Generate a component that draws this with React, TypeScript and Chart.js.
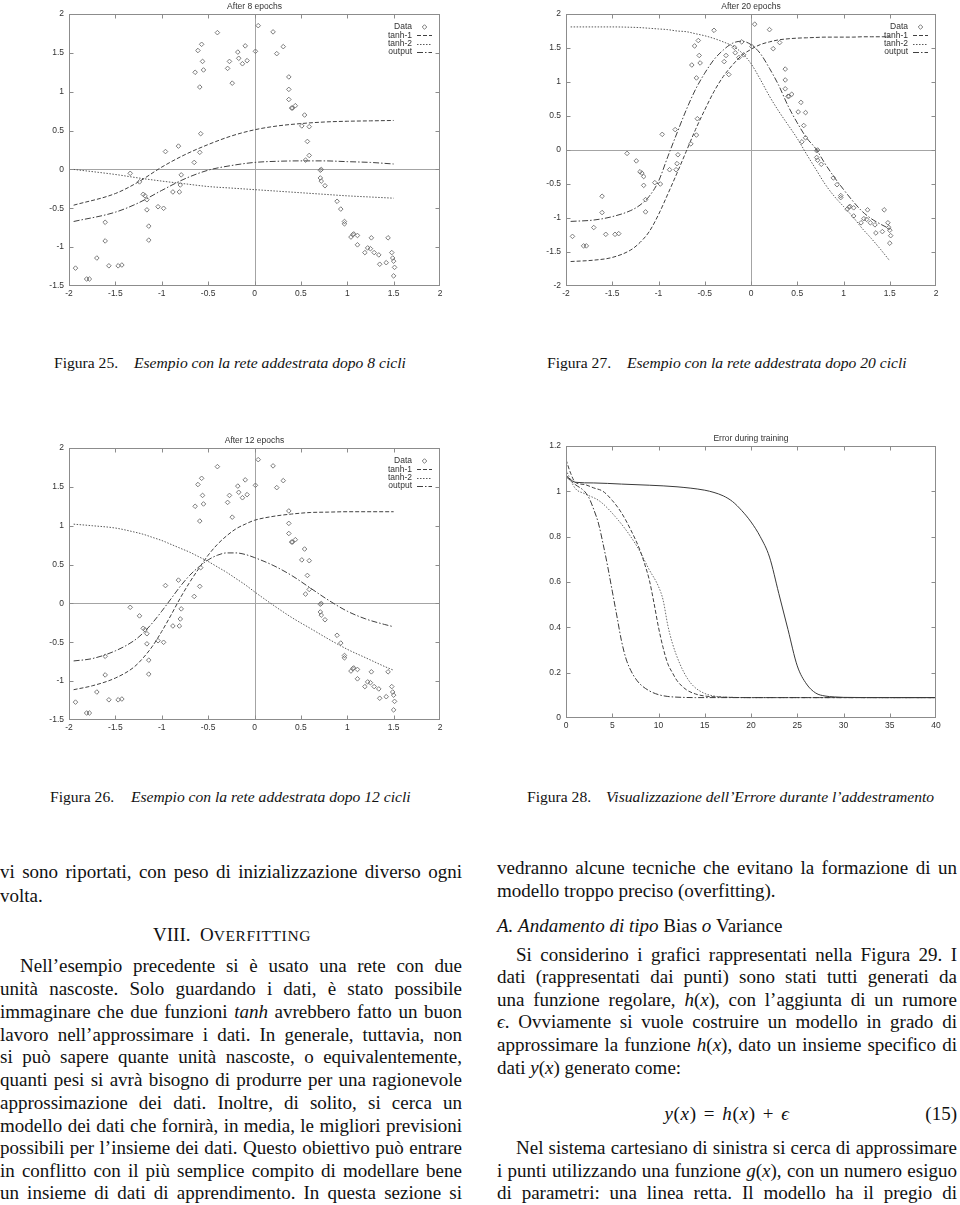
import React, { useEffect, useRef } from "react";
import { Chart, registerables } from "chart.js";
Chart.register(...registerables);

const SANS = '"Liberation Sans", Arial, sans-serif';
const SERIF = '"Liberation Serif", "DejaVu Serif", serif';

// ---------- training data (same in the three fit plots) ----------
const dataX = [-1.93,-1.81,-1.78,-1.70,-1.61,-1.61,-1.57,-1.47,-1.43,-1.34,-1.24,-1.20,-1.18,-1.16,-1.16,-1.14,-1.14,-1.04,-0.98,-0.96,-0.88,-0.82,-0.81,-0.80,-0.79,-0.65,-0.64,-0.61,-0.59,-0.59,-0.58,-0.57,-0.56,-0.55,-0.40,-0.29,-0.27,-0.24,-0.18,-0.17,-0.13,-0.10,-0.08,0.01,0.04,0.20,0.24,0.31,0.37,0.37,0.37,0.40,0.41,0.44,0.51,0.54,0.55,0.57,0.59,0.59,0.71,0.72,0.71,0.72,0.76,0.89,0.93,0.97,0.97,1.04,1.06,1.07,1.11,1.11,1.19,1.22,1.25,1.26,1.29,1.34,1.35,1.42,1.44,1.48,1.49,1.50,1.51,1.50];
const dataY = [-1.27,-1.41,-1.41,-1.14,-0.68,-0.92,-1.24,-1.24,-1.23,-0.05,-0.16,-0.32,-0.34,-0.39,-0.52,-0.73,-0.91,-0.48,-0.50,0.23,-0.29,0.30,-0.29,-0.20,-0.07,0.09,1.25,1.53,1.06,0.22,0.46,1.61,1.39,1.28,1.76,1.30,1.39,1.11,1.51,1.43,1.36,1.59,1.40,1.52,1.85,1.77,1.49,1.58,1.19,1.03,0.90,0.79,0.79,0.82,0.56,0.70,0.12,0.36,0.55,0.18,-0.01,0.00,-0.11,-0.15,-0.21,-0.41,-0.51,-0.67,-0.70,-0.87,-0.84,-0.83,-0.85,-0.97,-1.07,-1.01,-1.02,-0.88,-1.07,-1.10,-1.22,-1.20,-0.88,-1.07,-1.14,-1.18,-1.26,-1.37];

// ---------- After 8 epochs ----------
const e8X = [-1.95,-1.5,-1.25,-1.0,-0.75,-0.5,-0.25,0,0.25,0.5,0.75,1.0,1.25,1.5];
const e8Tanh1 = [-0.46,-0.31,-0.16,0.03,0.19,0.32,0.43,0.51,0.56,0.59,0.61,0.62,0.625,0.63];
const e8Tanh2 = [0.0,-0.065,-0.11,-0.15,-0.185,-0.22,-0.24,-0.26,-0.28,-0.30,-0.32,-0.34,-0.355,-0.37];
const e8Output = [-0.67,-0.55,-0.43,-0.27,-0.12,-0.01,0.05,0.09,0.105,0.11,0.11,0.10,0.09,0.07];

// ---------- After 20 epochs ----------
const e20X = [-1.95,-1.7,-1.5,-1.3,-1.2,-1.1,-1.0,-0.9,-0.8,-0.7,-0.6,-0.5,-0.4,-0.3,-0.2,-0.1,0,0.1,0.2,0.3,0.4,0.5,0.6,0.7,0.8,0.9,1.0,1.1,1.2,1.3,1.4,1.5];
const e20Tanh1 = [-1.64,-1.62,-1.58,-1.47,-1.36,-1.20,-0.95,-0.65,-0.34,-0.02,0.30,0.59,0.86,1.08,1.25,1.39,1.48,1.55,1.59,1.62,1.635,1.645,1.65,1.655,1.66,1.66,1.66,1.66,1.665,1.665,1.665,1.665];
const e20Tanh2 = [1.81,1.81,1.81,1.805,1.80,1.79,1.78,1.77,1.75,1.74,1.71,1.68,1.64,1.59,1.53,1.43,1.27,1.04,0.79,0.57,0.37,0.17,-0.06,-0.28,-0.50,-0.68,-0.83,-0.98,-1.15,-1.30,-1.46,-1.63];
const e20Output = [-1.05,-1.03,-0.98,-0.89,-0.81,-0.68,-0.46,-0.10,0.25,0.59,0.89,1.13,1.33,1.47,1.57,1.60,1.55,1.42,1.20,0.95,0.65,0.40,0.18,0.02,-0.20,-0.40,-0.58,-0.75,-0.90,-1.01,-1.09,-1.16];

// ---------- After 12 epochs ----------
const e12X = [-1.95,-1.75,-1.5,-1.3,-1.2,-1.1,-1.0,-0.9,-0.8,-0.7,-0.6,-0.5,-0.4,-0.3,-0.2,-0.1,0,0.2,0.4,0.6,0.8,1.0,1.2,1.4,1.5];
const e12Tanh1 = [-1.11,-1.06,-0.96,-0.82,-0.70,-0.55,-0.36,-0.15,0.07,0.27,0.45,0.62,0.76,0.87,0.96,1.02,1.07,1.12,1.15,1.17,1.175,1.18,1.18,1.18,1.18];
const e12Tanh2 = [1.02,1.00,0.97,0.92,0.89,0.85,0.81,0.76,0.71,0.66,0.60,0.54,0.47,0.40,0.32,0.24,0.15,-0.02,-0.18,-0.32,-0.46,-0.59,-0.70,-0.81,-0.86];
const e12Output = [-0.74,-0.71,-0.61,-0.48,-0.38,-0.25,-0.10,0.06,0.22,0.36,0.47,0.56,0.62,0.65,0.65,0.63,0.59,0.49,0.36,0.20,0.04,-0.10,-0.20,-0.27,-0.30];

// ---------- Error during training ----------
const errAX = [0,1,3,6,9,12,15,16,17,18,19,20,21,22,23,24,25,26,27,28,29,30,35,40];
const errAY = [1.07,1.04,1.037,1.032,1.027,1.02,1.005,0.995,0.98,0.955,0.915,0.865,0.80,0.71,0.55,0.39,0.23,0.15,0.11,0.097,0.093,0.091,0.09,0.09];
const errBX = [0,1,2,2.5,3,3.5,4,4.5,5,5.5,6,6.5,7,7.5,8,9,10,11,12,14,20,40];
const errBY = [1.065,1.03,1.0,0.97,0.92,0.86,0.77,0.67,0.56,0.45,0.34,0.26,0.21,0.175,0.15,0.12,0.103,0.095,0.092,0.09,0.09,0.09];
const errCX = [0,0.5,1,2,3,4,5,6,7,8,8.5,9,9.5,10,10.5,11,11.5,12,13,14,15,17,20,40];
const errCY = [1.14,1.08,1.04,1.03,1.015,1.0,0.96,0.905,0.83,0.74,0.68,0.61,0.51,0.40,0.31,0.24,0.20,0.165,0.125,0.106,0.097,0.092,0.09,0.09];
const errDX = [0,1,2,3.7,5.5,7,8,9,10,10.5,11,11.5,12.3,13.1,13.8,14.9,16.3,18,20,40];
const errDY = [1.094,1.013,0.99,0.955,0.88,0.80,0.734,0.654,0.58,0.52,0.41,0.33,0.24,0.176,0.14,0.11,0.095,0.091,0.09,0.09];

const pts = (xs: number[], ys: number[]) => xs.map((x, i) => ({ x, y: ys[i] }));

function decor(title: string, zeroAxes: boolean, legend: boolean) {
  return {
    id: "decor",
    beforeDatasetsDraw(chart: any) {
      if (!zeroAxes) return;
      const { ctx, chartArea: a, scales } = chart;
      const x0 = Math.round(scales.x.getPixelForValue(0)) + 0.5;
      const y0 = Math.round(scales.y.getPixelForValue(0)) + 0.5;
      ctx.save();
      ctx.strokeStyle = "#a4a4a4";
      ctx.lineWidth = 1;
      ctx.beginPath();
      ctx.moveTo(x0, a.top);
      ctx.lineTo(x0, a.bottom);
      ctx.moveTo(a.left, y0);
      ctx.lineTo(a.right, y0);
      ctx.stroke();
      ctx.restore();
    },
    afterDraw(chart: any) {
      const { ctx, chartArea: a, scales } = chart;
      ctx.save();
      ctx.strokeStyle = "#8c8c8c";
      ctx.lineWidth = 1;
      const L = Math.round(a.left) + 0.5, R = Math.round(a.right) - 0.5;
      const T = Math.round(a.top) + 0.5, B = Math.round(a.bottom) - 0.5;
      ctx.strokeRect(L, T, R - L, B - T);
      ctx.beginPath();
      scales.x.ticks.forEach((t: any) => {
        const p = Math.round(scales.x.getPixelForValue(t.value)) + 0.5;
        if (p <= L + 1 || p >= R - 1) return;
        ctx.moveTo(p, B); ctx.lineTo(p, B - 4);
        ctx.moveTo(p, T); ctx.lineTo(p, T + 4);
      });
      scales.y.ticks.forEach((t: any) => {
        const p = Math.round(scales.y.getPixelForValue(t.value)) + 0.5;
        if (p <= T + 1 || p >= B - 1) return;
        ctx.moveTo(L, p); ctx.lineTo(L + 4, p);
        ctx.moveTo(R, p); ctx.lineTo(R - 4, p);
      });
      ctx.stroke();
      ctx.fillStyle = "#333";
      ctx.font = `8.5px ${SANS}`;
      ctx.textAlign = "center";
      ctx.textBaseline = "alphabetic";
      ctx.fillText(title, (a.left + a.right) / 2, a.top - 5);
      if (legend) {
        chart.data.datasets.forEach((ds: any, i: number) => {
          const cy = a.top + 13 + i * 8.3;
          ctx.fillStyle = "#333";
          ctx.textAlign = "right";
          ctx.textBaseline = "middle";
          ctx.fillText(ds.label, a.right - 28, cy);
          if (ds.showLine) {
            ctx.setLineDash(ds.borderDash || []);
            ctx.strokeStyle = ds.borderColor;
            ctx.lineWidth = 1;
            ctx.beginPath();
            ctx.moveTo(a.right - 23, Math.round(cy) + 0.5);
            ctx.lineTo(a.right - 8, Math.round(cy) + 0.5);
            ctx.stroke();
            ctx.setLineDash([]);
          } else {
            const cx = a.right - 15.5, r = 2.3;
            ctx.strokeStyle = ds.borderColor;
            ctx.lineWidth = 0.9;
            ctx.beginPath();
            ctx.moveTo(cx, cy - r); ctx.lineTo(cx + r, cy); ctx.lineTo(cx, cy + r); ctx.lineTo(cx - r, cy);
            ctx.closePath();
            ctx.stroke();
          }
        });
      }
      ctx.restore();
    },
  };
}

const tickFmt = (v: any) => String(+Number(v).toFixed(2));

function axes(xMin: number, xMax: number, xStep: number, yMin: number, yMax: number, yStep: number) {
  const tickFont = { family: SANS, size: 8.5 };
  return {
    x: {
      type: "linear", min: xMin, max: xMax,
      ticks: { stepSize: xStep, callback: tickFmt, font: tickFont, color: "#333", padding: 3, maxRotation: 0, autoSkip: false },
      grid: { display: false, drawTicks: false },
      border: { display: false },
      afterFit: (s: any) => { s.height = 19; },
    },
    y: {
      type: "linear", min: yMin, max: yMax,
      ticks: { stepSize: yStep, callback: tickFmt, font: tickFont, color: "#333", padding: 5, autoSkip: false },
      grid: { display: false, drawTicks: false },
      border: { display: false },
      afterFit: (s: any) => { s.width = 69; },
    },
  };
}

function fitConfig(title: string, cx: number[], t1: number[], t2: number[], out: number[], yMin: number, padRight: number) {
  const line = (label: string, ys: number[], dash: number[], color: string) => ({
    label, data: pts(cx, ys), showLine: true, pointRadius: 0, borderColor: color, borderWidth: 1,
    borderDash: dash, cubicInterpolationMode: "monotone", fill: false,
  });
  return {
    type: "scatter",
    data: {
      datasets: [
        { label: "Data", data: pts(dataX, dataY), showLine: false, pointStyle: "rectRot", pointRadius: 2.3,
          borderColor: "#6e6e6e", backgroundColor: "rgba(255,255,255,0)", borderWidth: 0.9 },
        line("tanh-1", t1, [4, 2], "#404040"),
        line("tanh-2", t2, [1.5, 1.5], "#5a5a5a"),
        line("output", out, [6, 2, 1.5, 2], "#404040"),
      ],
    },
    options: {
      responsive: false, animation: false, devicePixelRatio: 1, events: [],
      layout: { padding: { top: 14, right: padRight, left: 0, bottom: 0 } },
      plugins: { legend: { display: false }, tooltip: { enabled: false }, title: { display: false } },
      scales: axes(-2, 2, 0.5, yMin, 2, 0.5),
    },
    plugins: [decor(title, true, true)],
  };
}

function errConfig() {
  const line = (label: string, xs: number[], ys: number[], dash: number[], color: string) => ({
    label, data: pts(xs, ys), showLine: true, pointRadius: 0, borderColor: color, borderWidth: 1,
    borderDash: dash, cubicInterpolationMode: "monotone", fill: false,
  });
  return {
    type: "scatter",
    data: {
      datasets: [
        line("run 1", errAX, errAY, [], "#3a3a3a"),
        line("run 2", errBX, errBY, [6, 2, 1.5, 2], "#3a3a3a"),
        line("run 3", errCX, errCY, [4, 2], "#404040"),
        line("run 4", errDX, errDY, [1.5, 1.5], "#6a6a6a"),
      ],
    },
    options: {
      responsive: false, animation: false, devicePixelRatio: 1, events: [],
      layout: { padding: { top: 14, right: 24, left: 0, bottom: 0 } },
      plugins: { legend: { display: false }, tooltip: { enabled: false }, title: { display: false } },
      scales: axes(0, 40, 5, 0, 1.2, 0.2),
    },
    plugins: [decor("Error during training", false, false)],
  };
}

function ChartBox({ left, top, width, height, build }: any) {
  const ref = useRef<HTMLCanvasElement>(null);
  useEffect(() => {
    const chart = new Chart(ref.current as HTMLCanvasElement, build() as any);
    return () => chart.destroy();
  }, []);
  return <canvas ref={ref} width={width} height={height} style={{ position: "absolute", left, top, width, height }} />;
}

function Words({ text }: { text: string }) {
  return (
    <>
      {text.split("_").map((s, i) => (i % 2 === 1 ? <i key={i} style={{ fontStyle: "italic" }}>{s}</i> : <span key={i}>{s}</span>))}
    </>
  );
}

function Line({ x, w, c, t, j, ind = 0 }: any) {
  const words = t.split(" ");
  return (
    <div
      style={{
        position: "absolute", left: x + ind, top: c - 13, width: w - ind, height: 23, lineHeight: "23px",
        fontFamily: SERIF, fontSize: 19, color: "#111", display: "flex", whiteSpace: "nowrap",
        justifyContent: j ? "space-between" : "flex-start", columnGap: j ? "0.12em" : "0.25em",
      }}
    >
      {words.map((wd: string, i: number) => (
        <span key={i}><Words text={wd} /></span>
      ))}
    </div>
  );
}

const leftLines = [
  { c: 873, t: "vi sono riportati, con peso di inizializzazione diverso ogni", j: true },
  { c: 897, t: "volta.", j: false },
  { c: 967, t: "Nell’esempio precedente si è usato una rete con due", j: true, ind: 20 },
  { c: 990, t: "unità nascoste. Solo guardando i dati, è stato possibile", j: true },
  { c: 1013, t: "immaginare che due funzioni _tanh_ avrebbero fatto un buon", j: true },
  { c: 1036, t: "lavoro nell’approssimare i dati. In generale, tuttavia, non", j: true },
  { c: 1058, t: "si può sapere quante unità nascoste, o equivalentemente,", j: true },
  { c: 1081, t: "quanti pesi si avrà bisogno di produrre per una ragionevole", j: true },
  { c: 1104, t: "approssimazione dei dati. Inoltre, di solito, si cerca un", j: true },
  { c: 1127, t: "modello dei dati che fornirà, in media, le migliori previsioni", j: true },
  { c: 1149, t: "possibili per l’insieme dei dati. Questo obiettivo può entrare", j: true },
  { c: 1172, t: "in conflitto con il più semplice compito di modellare bene", j: true },
  { c: 1194, t: "un insieme di dati di apprendimento. In questa sezione si", j: true },
];

const rightLines = [
  { c: 869, t: "vedranno alcune tecniche che evitano la formazione di un", j: true },
  { c: 892, t: "modello troppo preciso (overfitting).", j: false },
  { c: 927, t: "_A._ _Andamento_ _di_ _tipo_ Bias _o_ Variance", j: false },
  { c: 956, t: "Si considerino i grafici rappresentati nella Figura 29. I", j: true, ind: 19 },
  { c: 978, t: "dati (rappresentati dai punti) sono stati tutti generati da", j: true },
  { c: 1001, t: "una funzione regolare, _h_(_x_), con l’aggiunta di un rumore", j: true },
  { c: 1023, t: "_ϵ_. Ovviamente si vuole costruire un modello in grado di", j: true },
  { c: 1046, t: "approssimare la funzione _h_(_x_), dato un insieme specifico di", j: true },
  { c: 1069, t: "dati _y_(_x_) generato come:", j: false },
  { c: 1149, t: "Nel sistema cartesiano di sinistra si cerca di approssimare", j: true, ind: 19 },
  { c: 1172, t: "i punti utilizzando una funzione _g_(_x_), con un numero esiguo", j: true },
  { c: 1194, t: "di parametri: una linea retta. Il modello ha il pregio di", j: true },
];

const captions = [
  { x1: 54, x2: 134, c: 364, n: "Figura 25.", t: "Esempio con la rete addestrata dopo 8 cicli" },
  { x1: 547, x2: 627, c: 364, n: "Figura 27.", t: "Esempio con la rete addestrata dopo 20 cicli" },
  { x1: 50, x2: 131, c: 798, n: "Figura 26.", t: "Esempio con la rete addestrata dopo 12 cicli" },
  { x1: 527, x2: 606, c: 798, n: "Figura 28.", t: "Visualizzazione dell’Errore durante l’addestramento" },
];

export default function App() {
  const capStyle = (x: number, c: number, italic: boolean): any => ({
    position: "absolute", left: x, top: c - 11, lineHeight: "19px", fontSize: 15.6, fontFamily: SERIF,
    fontStyle: italic ? "italic" : "normal", whiteSpace: "nowrap", color: "#111",
  });
  const sp = "\u2004";
  return (
    <div style={{ position: "absolute", left: 0, top: 0, width: 960, height: 1205, background: "#fff", overflow: "hidden" }}>
      <ChartBox left={0} top={0} width={470} height={305}
        build={() => fitConfig("After 8 epochs", e8X, e8Tanh1, e8Tanh2, e8Output, -1.5, 30)} />
      <ChartBox left={497} top={0} width={463} height={305}
        build={() => fitConfig("After 20 epochs", e20X, e20Tanh1, e20Tanh2, e20Output, -2, 24)} />
      <ChartBox left={0} top={434} width={470} height={305}
        build={() => fitConfig("After 12 epochs", e12X, e12Tanh1, e12Tanh2, e12Output, -1.5, 30)} />
      <ChartBox left={497} top={432} width={463} height={305} build={() => errConfig()} />

      {captions.map((cp, i) => (
        <React.Fragment key={i}>
          <div style={capStyle(cp.x1, cp.c, false)}>{cp.n}</div>
          <div style={capStyle(cp.x2, cp.c, true)}>{cp.t}</div>
        </React.Fragment>
      ))}

      {leftLines.map((l, i) => <Line key={"l" + i} x={0} w={462} {...l} />)}
      <div style={{ position: "absolute", left: 0, width: 464, top: 936 - 13, lineHeight: "23px", fontSize: 19,
        fontFamily: SERIF, textAlign: "center", color: "#111", whiteSpace: "nowrap" }}>
        VIII.&nbsp;&nbsp;O<span style={{ fontSize: 15.5, letterSpacing: "0.6px" }}>VERFITTING</span>
      </div>

      {rightLines.map((l, i) => <Line key={"r" + i} x={497} w={460} {...l} />)}
      <div style={{ position: "absolute", left: 600, width: 254, top: 1115 - 13, lineHeight: "23px", fontSize: 19,
        fontFamily: SERIF, textAlign: "center", color: "#111", whiteSpace: "nowrap", letterSpacing: "0.7px" }}>
        <i>y</i>(<i>x</i>){sp}={sp}<i>h</i>(<i>x</i>){sp}+{sp}<i>ϵ</i>
      </div>
      <div style={{ position: "absolute", left: 880, width: 77, top: 1115 - 13, lineHeight: "23px", fontSize: 19,
        fontFamily: SERIF, textAlign: "right", color: "#111" }}>
        (15)
      </div>
    </div>
  );
}
